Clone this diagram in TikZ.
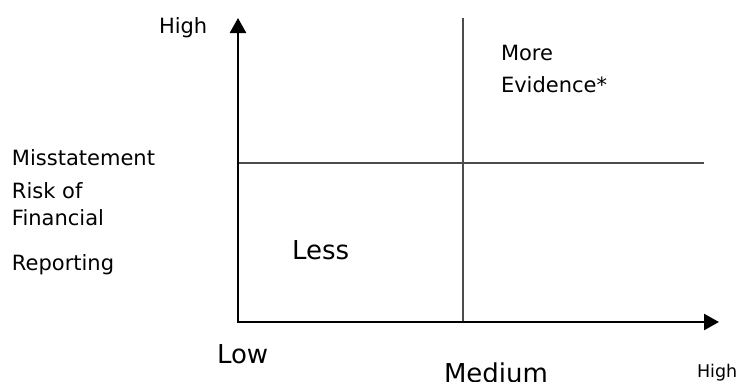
\documentclass[tikz,border=0pt]{standalone}
\usepackage{fontspec}
\setmainfont{DejaVu Sans}
\usetikzlibrary{arrows.meta}
\begin{document}
\begin{tikzpicture}[x=1pt,y=-1pt,
  lbl/.style={anchor=base west,inner sep=0pt,outer sep=0pt,font=\fontsize{21}{24}\selectfont},
  biglbl/.style={anchor=base west,inner sep=0pt,outer sep=0pt,font=\fontsize{26}{30}\selectfont},
  smalllbl/.style={anchor=base west,inner sep=0pt,outer sep=0pt,font=\fontsize{17.5}{20}\selectfont},
  axis/.style={line width=2.5pt,-{Triangle[width=16pt,length=15pt]}},
  grid/.style={line width=2pt,draw=black!70}]
\useasboundingbox (0,0) rectangle (739,381);
\coordinate (O) at (238,322);
\coordinate (Ytop) at (238,18);
\coordinate (Xend) at (719,322);
\coordinate (Vtop) at (463,18);
\coordinate (Vbot) at (463,322);
\coordinate (Hl) at (238,163);
\coordinate (Hr) at (704,163);
\draw[grid] (Vtop) -- (Vbot);
\draw[grid] (Hl) -- (Hr);
\draw[axis] ([yshift=1.25pt]O) -- (Ytop);
\draw[axis] ([xshift=-1.25pt]O) -- (Xend);
\node[lbl] (yhigh) at (159,33) {High};
\node[lbl] (l1) at (12,165) {Misstatement};
\node[lbl] (l2) at (12,198) {Risk of};
\node[lbl] (l3) at (12,225) {Financial};
\node[lbl] (l4) at (12,270) {Reporting};
\node[lbl] (more) at (501,60) {More};
\node[lbl] (evid) at (501,92) {Evidence*};
\node[biglbl] (less) at (292,259) {Less};
\node[biglbl] (low) at (217,363) {Low};
\node[biglbl] (med) at (444,382) {Medium};
\node[smalllbl] (xhigh) at (697,377) {High};
\end{tikzpicture}
\end{document}
